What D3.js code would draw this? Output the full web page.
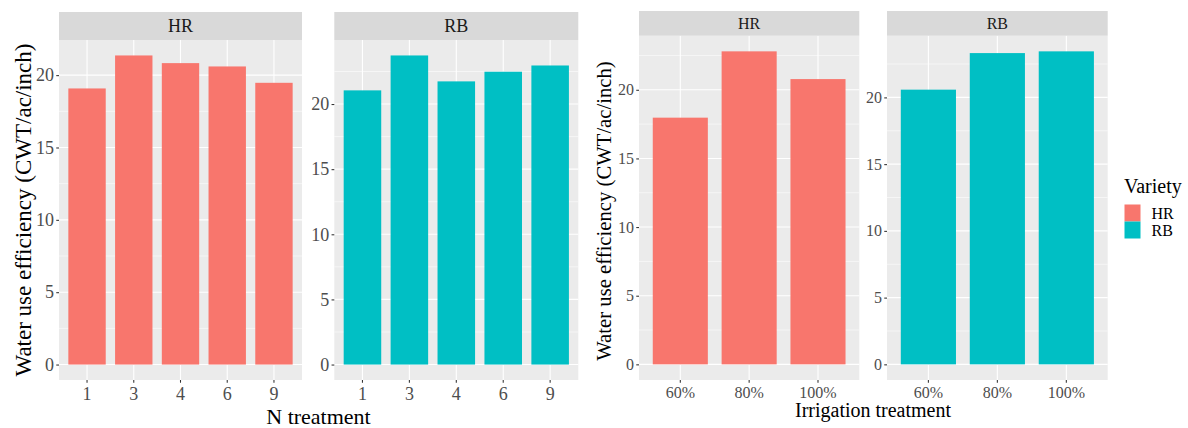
<!DOCTYPE html>
<html>
<head>
<meta charset="utf-8">
<script src="https://cdn.jsdelivr.net/npm/d3@7"></script>
<style>
  html, body { margin: 0; padding: 0; background: #ffffff; }
  svg { display: block; }
</style>
</head>
<body>
<svg id="chart" width="1188" height="428"></svg>
<script>
// ---- Data ----
const nCategories = ["1", "3", "4", "6", "9"];
const nHR = [19.08, 21.36, 20.83, 20.60, 19.47];
const nRB = [21.05, 23.73, 21.74, 22.48, 22.96];

const irrCategories = ["60%", "80%", "100%"];
const irrHR = [17.97, 22.80, 20.78];
const irrRB = [20.58, 23.32, 23.45];

const yTickValues = [0, 5, 10, 15, 20];
const varieties = ["HR", "RB"];
const varietyColors = ["#F8766D", "#00BFC4"];

const yTitle = "Water use efficiency (CWT/ac/inch)";
const nTitle = "N treatment";
const irrTitle = "Irrigation treatment";
const legendTitle = "Variety";

// ---- Setup ----
const svg = d3.select("#chart");
const FONT = "'Liberation Serif', 'Times New Roman', serif";
const color = d3.scaleOrdinal().domain(varieties).range(varietyColors);

function drawPanel(cfg) {
  const { x0, x1, top, bottom, stripTop, cats, vals, variety, stripFont, tickFont, xLabelBaseline } = cfg;
  const g = svg.append("g");
  const maxV = d3.max(vals);
  const y = d3.scaleLinear().domain([-0.05 * maxV, 1.05 * maxV]).range([bottom, top]);
  const x = d3.scaleBand().domain(cats).range([x0, x1]).paddingInner(0.2).paddingOuter(0.2);

  // panel background
  g.append("rect").attr("x", x0).attr("y", top).attr("width", x1 - x0).attr("height", bottom - top)
    .attr("fill", "#EBEBEB");

  // minor grid
  const minor = d3.range(2.5, 1.05 * maxV, 5);
  g.selectAll(".minor").data(minor).enter().append("line")
    .attr("x1", x0).attr("x2", x1).attr("y1", d => y(d)).attr("y2", d => y(d))
    .attr("stroke", "#ffffff").attr("stroke-width", 0.55);
  // major grid
  g.selectAll(".majorY").data(yTickValues).enter().append("line")
    .attr("x1", x0).attr("x2", x1).attr("y1", d => y(d)).attr("y2", d => y(d))
    .attr("stroke", "#ffffff").attr("stroke-width", 1.1);
  g.selectAll(".majorX").data(cats).enter().append("line")
    .attr("x1", d => x(d) + x.bandwidth() / 2).attr("x2", d => x(d) + x.bandwidth() / 2)
    .attr("y1", top).attr("y2", bottom)
    .attr("stroke", "#ffffff").attr("stroke-width", 1.1);

  // bars
  g.selectAll(".bar").data(cats.map((c, i) => ({ c, v: vals[i] }))).enter().append("rect")
    .attr("x", d => x(d.c)).attr("width", x.bandwidth())
    .attr("y", d => y(d.v)).attr("height", d => y(0) - y(d.v))
    .attr("fill", color(variety));

  // strip
  g.append("rect").attr("x", x0).attr("y", stripTop).attr("width", x1 - x0).attr("height", top - stripTop)
    .attr("fill", "#D9D9D9");
  g.append("text").attr("x", (x0 + x1) / 2).attr("y", (stripTop + top) / 2)
    .attr("text-anchor", "middle").attr("dominant-baseline", "central")
    .attr("font-family", FONT).attr("font-size", stripFont).attr("fill", "#1A1A1A")
    .text(variety);

  // y axis
  const ya = g.append("g").attr("transform", `translate(${x0},0)`)
    .call(d3.axisLeft(y).tickValues(yTickValues).tickSize(2.75).tickPadding(2.2).tickFormat(d3.format("d")));
  ya.select(".domain").remove();
  ya.selectAll(".tick line").attr("stroke", "#333333").attr("stroke-width", 1.07);
  ya.selectAll(".tick text").attr("font-family", FONT).attr("font-size", tickFont).attr("fill", "#4D4D4D");

  // x axis
  const xa = g.append("g").attr("transform", `translate(0,${bottom})`)
    .call(d3.axisBottom(x).tickSize(2.75).tickPadding(2.2));
  xa.select(".domain").remove();
  xa.selectAll(".tick line").attr("stroke", "#333333").attr("stroke-width", 1.07);
  xa.selectAll(".tick text").attr("font-family", FONT).attr("font-size", tickFont).attr("fill", "#4D4D4D")
    .attr("dy", null).attr("y", xLabelBaseline - bottom);
}

// Left figure (N treatment)
drawPanel({ x0: 59, x1: 302, top: 40, bottom: 380, stripTop: 12, cats: nCategories, vals: nHR,
  variety: "HR", stripFont: 18, tickFont: 18, xLabelBaseline: 400 });
drawPanel({ x0: 334.3, x1: 578.3, top: 40, bottom: 380, stripTop: 12, cats: nCategories, vals: nRB,
  variety: "RB", stripFont: 18, tickFont: 18, xLabelBaseline: 400 });

// Right figure (Irrigation treatment)
drawPanel({ x0: 639, x1: 859.3, top: 35.7, bottom: 380, stripTop: 11, cats: irrCategories, vals: irrHR,
  variety: "HR", stripFont: 16, tickFont: 16, xLabelBaseline: 397.5 });
drawPanel({ x0: 887, x1: 1107.7, top: 35.7, bottom: 380, stripTop: 11, cats: irrCategories, vals: irrRB,
  variety: "RB", stripFont: 16, tickFont: 16, xLabelBaseline: 397.5 });

// Axis titles
svg.append("text").attr("transform", "translate(31,210) rotate(-90)")
  .attr("text-anchor", "middle").attr("font-family", FONT).attr("font-size", 23).attr("fill", "#000")
  .text(yTitle);
svg.append("text").attr("transform", "translate(611,211) rotate(-90)")
  .attr("text-anchor", "middle").attr("font-family", FONT).attr("font-size", 20.7).attr("fill", "#000")
  .text(yTitle);
svg.append("text").attr("x", 318.5).attr("y", 424)
  .attr("text-anchor", "middle").attr("font-family", FONT).attr("font-size", 22).attr("fill", "#000")
  .text(nTitle);
svg.append("text").attr("x", 873).attr("y", 416.7)
  .attr("text-anchor", "middle").attr("font-family", FONT).attr("font-size", 20).attr("fill", "#000")
  .text(irrTitle);

// Legend
const lg = svg.append("g");
lg.append("text").attr("x", 1124).attr("y", 193)
  .attr("font-family", FONT).attr("font-size", 20).attr("fill", "#000").text(legendTitle);
varieties.forEach((v, i) => {
  const ky = 204.5 + i * 17;
  lg.append("rect").attr("x", 1124.5).attr("y", ky).attr("width", 16).attr("height", 17)
    .attr("fill", color(v));
  lg.append("text").attr("x", 1151.5).attr("y", ky + 8.5).attr("dominant-baseline", "central")
    .attr("font-family", FONT).attr("font-size", 16).attr("fill", "#000").text(v);
});
</script>
</body>
</html>
